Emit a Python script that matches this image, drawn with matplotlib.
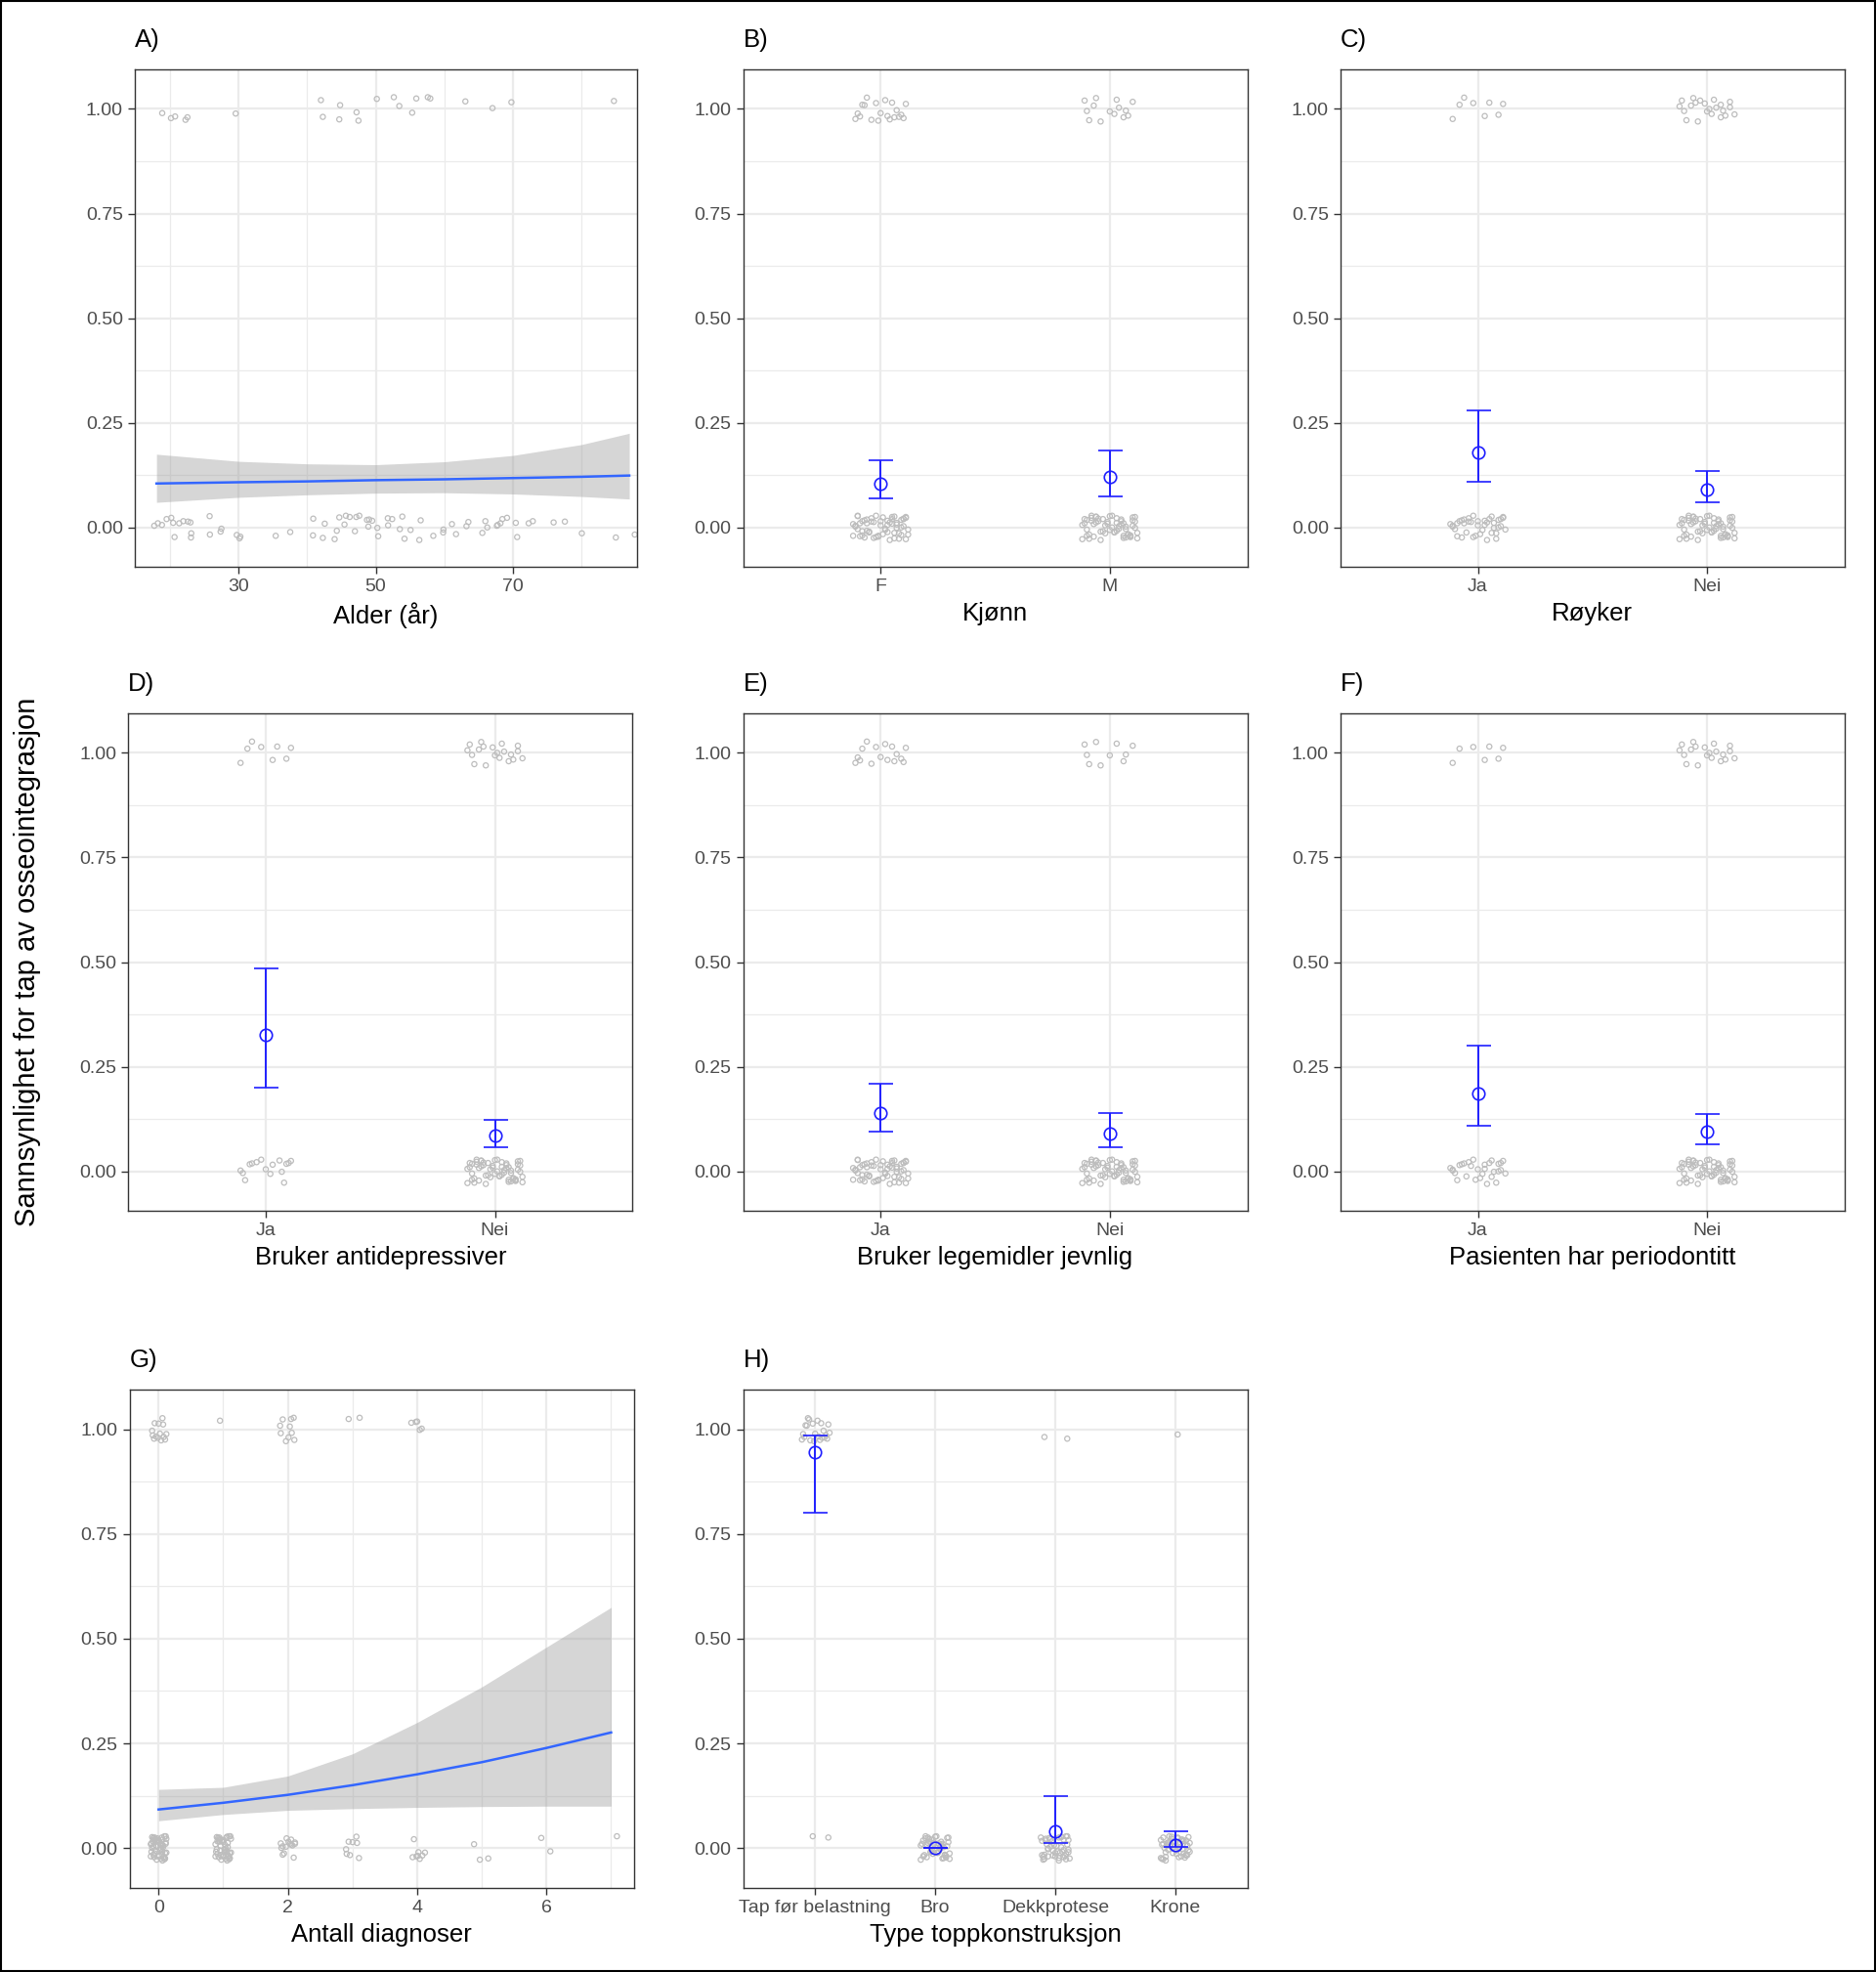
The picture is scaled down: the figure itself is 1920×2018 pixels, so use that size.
import matplotlib
matplotlib.use("Agg")
import matplotlib.pyplot as plt
import numpy as np

plt.rcParams['font.family'] = ['Liberation Sans', 'DejaVu Sans']

# ---------------- data ----------------
yticks = [0.0, 0.25, 0.5, 0.75, 1.0]
ytick_labels = ["0.00", "0.25", "0.50", "0.75", "1.00"]

jit_dx = [-0.08, 0.05, 0.11, -0.02, 0.09, -0.11, 0.03, -0.06, 0.07, 0.00, -0.09, 0.10, -0.04, 0.06, -0.10,
          0.02, 0.08, -0.07, 0.04, -0.01, 0.12, -0.05, 0.01, -0.12, 0.10, -0.03, 0.06, -0.08, 0.09, 0.03,
          -0.11, 0.05, -0.06, 0.11, -0.02, 0.07, -0.09, 0.00, 0.04, -0.04, 0.08, -0.07, 0.12, -0.10, 0.02,
          -0.05, 0.09, -0.01, 0.06, -0.12, 0.03, 0.10, -0.08, 0.05, -0.03, 0.11, -0.06, 0.01, -0.10, 0.07]
jit_dy = [0.01, -0.02, 0.025, -0.01, 0.00, 0.02, -0.025, 0.015, -0.005, 0.028, -0.018, 0.006, 0.022, -0.028, 0.012,
          -0.012, 0.018, -0.022, 0.004, 0.026, -0.008, 0.014, -0.016, 0.002, -0.026, 0.02, -0.004, 0.024, -0.014, 0.008,
          0.016, -0.02, 0.01, -0.006, 0.028, -0.024, 0.003, 0.019, -0.011, 0.023, -0.027, 0.007, -0.017, 0.013, -0.001,
          0.021, -0.023, 0.017, -0.009, 0.027, -0.013, 0.005, -0.019, 0.011, -0.03, 0.025, -0.003, 0.015, -0.021, 0.009]

age_one = [19, 20, 21, 22, 23, 29, 42, 43, 44, 45, 47, 48, 50, 52, 54, 55, 56, 57, 58, 63, 68, 69, 85]
age_zero = [18, 18, 19, 19, 20, 20, 21, 21, 22, 22, 23, 23, 24, 25, 26, 27, 28, 29, 30, 31, 35, 38, 40, 41,
            42, 43, 44, 44, 45, 45, 46, 46, 47, 47, 48, 48, 49, 49, 50, 50, 51, 51, 52, 52, 53, 54, 55, 55,
            56, 57, 58, 59, 60, 61, 62, 63, 64, 65, 66, 67, 67, 68, 68, 69, 69, 70, 71, 72, 73, 75, 78, 80, 86, 87]
age_grid = [18, 30, 40, 50, 60, 70, 80, 87]
age_fit = [0.105, 0.108, 0.110, 0.113, 0.115, 0.118, 0.121, 0.124]
age_lo = [0.060, 0.072, 0.078, 0.082, 0.083, 0.080, 0.074, 0.068]
age_hi = [0.175, 0.158, 0.152, 0.150, 0.157, 0.172, 0.198, 0.225]

cat_panels = [
    ("B)", "Kjønn", ["F", "M"], [0.105, 0.12], [0.07, 0.075], [0.16, 0.185], [20, 14], [60, 60]),
    ("C)", "Røyker", ["Ja", "Nei"], [0.18, 0.09], [0.11, 0.06], [0.28, 0.135], [8, 22], [40, 60]),
    ("D)", "Bruker antidepressiver", ["Ja", "Nei"], [0.325, 0.085], [0.2, 0.058], [0.485, 0.122], [8, 20], [16, 60]),
    ("E)", "Bruker legemidler jevnlig", ["Ja", "Nei"], [0.14, 0.09], [0.095, 0.057], [0.21, 0.14], [16, 10], [60, 60]),
    ("F)", "Pasienten har periodontitt", ["Ja", "Nei"], [0.185, 0.095], [0.11, 0.065], [0.30, 0.137], [7, 20], [30, 60]),
    ("H)", "Type toppkonstruksjon", ["Tap før belastning", "Bro", "Dekkprotese", "Krone"],
     [0.945, 0.0, 0.04, 0.008], [0.80, 0.0, 0.012, 0.002], [0.985, 0.0, 0.125, 0.04], [22, 0, 2, 1], [2, 45, 45, 50]),
]

diag_one_x = [0] * 14 + [1] + [2] * 10 + [3] * 2 + [4] * 5
diag_zero_x = [0] * 50 + [1] * 45 + [2] * 15 + [3] * 8 + [4] * 8 + [5] * 3 + [6] * 2 + [7]
diag_grid = [0, 1, 2, 3, 4, 5, 6, 7]
diag_fit = [0.092, 0.108, 0.127, 0.150, 0.176, 0.205, 0.239, 0.276]
diag_lo = [0.065, 0.080, 0.090, 0.094, 0.097, 0.099, 0.100, 0.100]
diag_hi = [0.140, 0.145, 0.172, 0.225, 0.300, 0.385, 0.480, 0.575]

PT = "#BDBDBD"
BLUE_ERR = "#1F1FFF"
BLUE_LINE = "#3366FF"
GRIDC = "#EBEBEB"

fig = plt.figure(figsize=(19.2, 20.18), dpi=100)
W, H = 1492.0, 1568.0

def make_ax(x0, x1, y0, y1):
    return fig.add_axes([x0 / W, 1 - y1 / H, (x1 - x0) / W, (y1 - y0) / H])

def style(ax, letter, xlabel):
    ax.set_ylim(-0.095, 1.095)
    ax.set_yticks(yticks)
    ax.set_yticklabels(ytick_labels)
    ax.set_yticks([0.125, 0.375, 0.625, 0.875], minor=True)
    ax.grid(True, which="major", color=GRIDC, lw=1.6, zorder=0)
    ax.grid(True, which="minor", axis="y", color=GRIDC, lw=0.9, zorder=0)
    ax.set_axisbelow(True)
    for s in ax.spines.values():
        s.set_color("#333333"); s.set_linewidth(1.0)
    ax.tick_params(which="major", labelsize=14, colors="#333333", length=5, width=1)
    ax.tick_params(which="minor", length=0)
    for t in ax.get_xticklabels() + ax.get_yticklabels():
        t.set_color("#4D4D4D")
    ax.set_xlabel(xlabel, fontsize=18.5, labelpad=5)
    ax.text(0.0, 1.035, letter, transform=ax.transAxes, fontsize=18.5, ha="left", va="bottom")

def jitter_pts(ax, xs, y, scale_x, start=0):
    n = len(xs)
    dx = [jit_dx[(i + start) % 60] * scale_x for i in range(n)]
    dy = [jit_dy[(i * 7 + start) % 60] for i in range(n)]
    ax.scatter(np.array(xs) + np.array(dx), y + np.array(dy), s=14, facecolors="none",
               edgecolors=PT, linewidths=0.9, zorder=2)

cols = [(107, 507), (591, 992), (1066, 1467)]
cols2 = [(102, 503), (591, 992), (1066, 1467)]
cols3 = [(103, 504), (591, 992)]
rows = [(55, 451), (567, 963), (1105, 1501)]

ax = make_ax(*cols[0], *rows[0])
jitter_pts(ax, age_one, 1.0, 8, start=3)
jitter_pts(ax, age_zero, 0.0, 8, start=11)
ax.fill_between(age_grid, age_lo, age_hi, color="#999999", alpha=0.4, lw=0, zorder=3)
ax.plot(age_grid, age_fit, color=BLUE_LINE, lw=1.8, zorder=4)
ax.set_xlim(14.8, 88.2)
ax.set_xticks([30, 50, 70])
ax.set_xticks([20, 40, 60, 80], minor=True)
ax.grid(True, which="minor", axis="x", color=GRIDC, lw=0.9)
style(ax, "A)", "Alder (år)")

cat_pos = [(cols[1], rows[0]), (cols[2], rows[0]), (cols2[0], rows[1]), (cols2[1], rows[1]),
           (cols2[2], rows[1]), (cols3[1], rows[2])]
for (letter, xl, cats, est, lo, hi, n1, n0), (cx, ry) in zip(cat_panels, cat_pos):
    ax = make_ax(*cx, *ry)
    xs = np.arange(1, len(cats) + 1)
    for i, x in enumerate(xs):
        jitter_pts(ax, [x] * n1[i], 1.0, 1.0, start=5 * i)
        jitter_pts(ax, [x] * n0[i], 0.0, 1.0, start=13 * i + 2)
    yerr = [np.array(est) - np.array(lo), np.array(hi) - np.array(est)]
    ax.errorbar(xs, est, yerr=yerr, fmt="o", mfc="none", mec=BLUE_ERR, ms=9, mew=1.2,
                ecolor=BLUE_ERR, elinewidth=1.4, capsize=9, capthick=1.4, zorder=5)
    ax.set_xlim(0.4, len(cats) + 0.6)
    ax.set_xticks(xs)
    ax.set_xticklabels(cats)
    style(ax, letter, xl)

ax = make_ax(*cols3[0], *rows[2])
jitter_pts(ax, diag_one_x, 1.0, 1.0, start=7)
jitter_pts(ax, diag_zero_x, 0.0, 1.0, start=17)
ax.fill_between(diag_grid, diag_lo, diag_hi, color="#999999", alpha=0.4, lw=0, zorder=3)
ax.plot(diag_grid, diag_fit, color=BLUE_LINE, lw=1.8, zorder=4)
ax.set_xlim(-0.45, 7.35)
ax.set_xticks([0, 2, 4, 6])
ax.set_xticks([1, 3, 5, 7], minor=True)
ax.grid(True, which="minor", axis="x", color=GRIDC, lw=0.9)
style(ax, "G)", "Antall diagnoser")

fig.text(22 / W, 0.5 + 0.012, "Sannsynlighet for tap av osseointegrasjon", rotation=90,
         fontsize=21, ha="center", va="center")

border = plt.Rectangle((0.0005, 0.0005), 0.999, 0.999, transform=fig.transFigure,
                       fill=False, edgecolor="black", lw=1.5)
fig.patches.append(border)

fig.savefig("out.png", dpi=100, facecolor="white")
